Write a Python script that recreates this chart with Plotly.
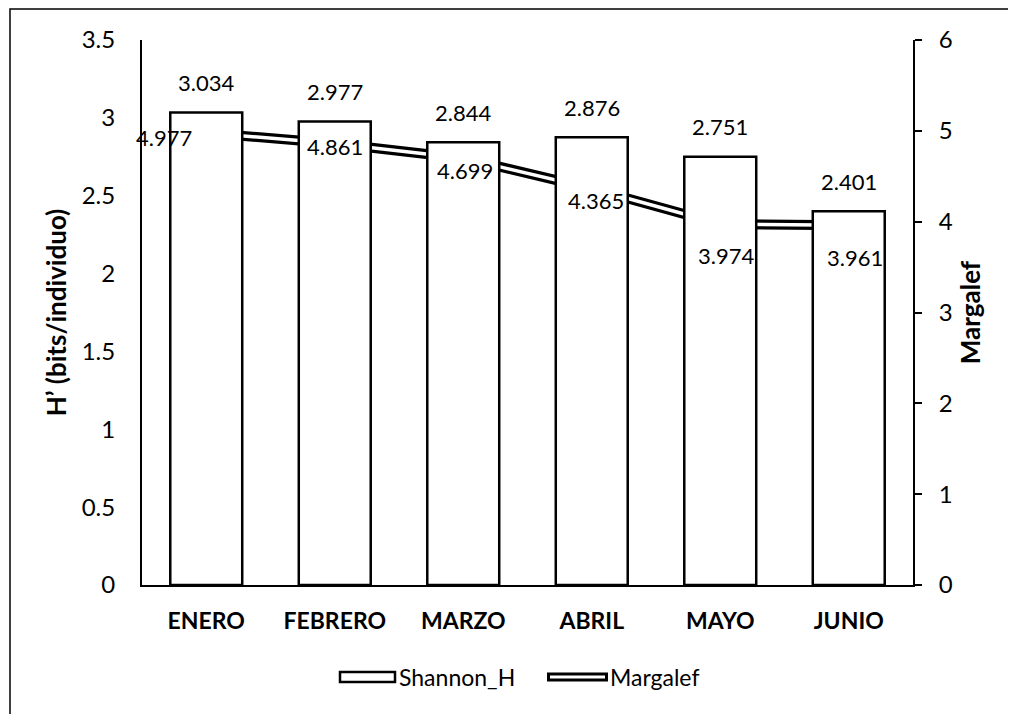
import plotly.graph_objects as go

categories = ["ENERO", "FEBRERO", "MARZO", "ABRIL", "MAYO", "JUNIO"]
shannon_h = [3.034, 2.977, 2.844, 2.876, 2.751, 2.401]
margalef = [4.977, 4.861, 4.699, 4.365, 3.974, 3.961]

W, H = 1016, 714
OFF = 8  # page body margin
# plot area in screen pixels
SL, SR, ST, SB = 142, 913, 40, 585
L, R, T, B = SL - OFF, SR - OFF, ST - OFF, SB - OFF
FONT = "Lato"


def px(x):
    return (x - SL) / (SR - SL)


def py(y):
    return (SB - y) / (SB - ST)


fig = go.Figure()

# Margalef double line (drawn underneath the bars)
fig.add_trace(go.Scatter(x=categories, y=margalef, mode="lines", yaxis="y",
                         line=dict(color="black", width=10), showlegend=False,
                         hoverinfo="skip"))
fig.add_trace(go.Scatter(x=categories, y=margalef, mode="lines", yaxis="y",
                         line=dict(color="white", width=3.5), name="Margalef",
                         showlegend=False))

# Shannon bars on the overlaying (left) axis so they sit above the line
fig.add_trace(go.Bar(x=categories, y=shannon_h, yaxis="y2", name="Shannon_H",
                     width=0.56, marker=dict(color="white",
                                             line=dict(color="black", width=2.5)),
                     showlegend=False))

annotations = []
for c, v in zip(categories, shannon_h):
    annotations.append(dict(x=c, y=v, xref="x", yref="y2", text=f"{v:.3f}",
                            showarrow=False, yshift=30, yanchor="middle",
                            font=dict(family=FONT, size=22, color="black")))

m_xshift = [-42, 0, 2, 4, 6, 6]
m_yshift = [-5, -3, -12, -12, -31, -32]
for c, v, dx, dy in zip(categories, margalef, m_xshift, m_yshift):
    annotations.append(dict(x=c, y=v, xref="x", yref="y", text=f"{v:.3f}",
                            showarrow=False, xshift=dx, yshift=dy, yanchor="middle",
                            font=dict(family=FONT, size=22, color="black")))

# Manual legend
annotations.append(dict(x=px(397), y=py(677), xref="paper", yref="paper",
                        text="Shannon_H", showarrow=False, xanchor="left",
                        yanchor="middle", font=dict(family=FONT, size=23, color="black")))
annotations.append(dict(x=px(608), y=py(677), xref="paper", yref="paper",
                        text="Margalef", showarrow=False, xanchor="left",
                        yanchor="middle", font=dict(family=FONT, size=23, color="black")))

shapes = [
    dict(type="rect", xref="paper", yref="paper", x0=px(340), x1=px(395),
         y0=py(682), y1=py(672), fillcolor="white", line=dict(color="black", width=2.5)),
    dict(type="line", xref="paper", yref="paper", x0=px(547), x1=px(608),
         y0=py(677), y1=py(677), line=dict(color="black", width=9)),
    dict(type="line", xref="paper", yref="paper", x0=px(550), x1=px(605),
         y0=py(677), y1=py(677), line=dict(color="white", width=3)),
    # outer chart frame (left and top visible)
    dict(type="rect", xref="paper", yref="paper", x0=px(10), x1=px(1040),
         y0=py(740), y1=py(9), fillcolor="rgba(0,0,0,0)",
         line=dict(color="black", width=1.5), layer="below"),
]

fig.update_layout(
    width=W, height=H,
    margin=dict(l=L, r=W - R, t=T, b=H - B, autoexpand=False),
    paper_bgcolor="white", plot_bgcolor="white",
    font=dict(family=FONT, size=22, color="black"),
    showlegend=False,
    xaxis=dict(showline=True, linecolor="black", linewidth=2, ticks="",
               showgrid=False, tickfont=dict(family=FONT, size=23, color="black",
                                             weight="bold"),
               ticklabelstandoff=14, range=[-0.5, 5.5]),
    yaxis=dict(side="right", range=[0, 6], dtick=1, showgrid=False, zeroline=False,
               showline=True, linecolor="black", linewidth=2, ticks="outside",
               ticklen=7, tickwidth=2, tickcolor="black", ticklabelstandoff=12,
               tickfont=dict(family=FONT, size=24),
               title=dict(text="Margalef", standoff=10,
                          font=dict(family=FONT, size=26, weight="bold"))),
    yaxis2=dict(overlaying="y", side="left", range=[0, 3.5], dtick=0.5,
                showgrid=False, zeroline=False, showline=True, linecolor="black",
                linewidth=2, ticks="", ticklabelstandoff=20,
                tickfont=dict(family=FONT, size=24),
                title=dict(text="H’ (bits/individuo)", standoff=8,
                           font=dict(family=FONT, size=26, weight="bold"))),
    annotations=annotations,
    shapes=shapes,
)

fig.write_html("out.html")
